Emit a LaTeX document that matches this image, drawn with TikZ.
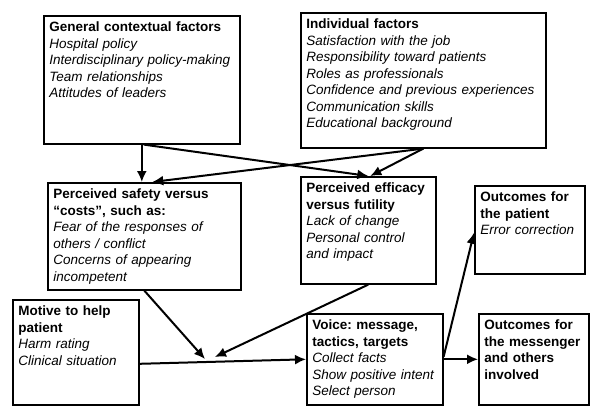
\documentclass[tikz,border=0pt]{standalone}
\usepackage{fontspec}
\setmainfont{Liberation Sans}
\usepgflibrary{arrows.meta}
\frenchspacing

\tikzset{
  factor/.style={draw, line width=1.6pt, anchor=north west, align=left,
    inner xsep=5.5pt, inner ysep=5pt, text height=11pt,
    font=\fontsize{13.5}{16.5}\selectfont},
  link/.style={line width=2pt, -{Latex[length=11pt,width=10pt]}},
}

\begin{document}
\begin{tikzpicture}[x=1pt, y=-1pt]
  \fill[white] (0,0) rectangle (600,416);
  \useasboundingbox (0,0) rectangle (600,416);

  % upper row
  \node[factor, text width=185pt, text depth=107pt] (gen) at (43,15)
  {\textbf{General contextual factors}\\
   \textit{Hospital policy}\\
   \textit{Interdisciplinary policy-making}\\
   \textit{Team relationships}\\
   \textit{Attitudes of leaders}};
  \node[factor, text width=234pt, text depth=114pt] (indiv) at (300,12)
  {\textbf{Individual factors}\\
   \textit{Satisfaction with the job}\\
   \textit{Responsibility toward patients}\\
   \textit{Roles as professionals}\\
   \textit{Confidence and previous experiences}\\
   \textit{Communication skills}\\
   \textit{Educational background}};

  % middle row
  \node[factor, text width=182pt, text depth=86pt] (safe) at (47,182)
  {\textbf{Perceived safety versus}\\
   \textbf{“costs”, such as:}\\
   \textit{Fear of the responses of}\\
   \textit{others / conflict}\\
   \textit{Concerns of appearing}\\
   \textit{incompetent}};
  \node[factor, text width=124pt, text depth=86pt] (eff) at (300,176)
  {\textbf{Perceived efficacy}\\
   \textbf{versus futility}\\
   \textit{Lack of change}\\
   \textit{Personal control}\\
   \textit{and impact}};
  \node[factor, text width=99pt, text depth=67pt] (patient) at (474,185)
  {\textbf{Outcomes for}\\
   \textbf{the patient}\\
   \textit{Error correction}};

  % lower row
  \node[factor, text width=115pt, text depth=84pt] (motive) at (12,299)
  {\textbf{Motive to help}\\
   \textbf{patient}\\
   \textit{Harm rating}\\
   \textit{Clinical situation}};
  \node[factor, text width=125pt, text depth=70pt] (voice) at (306,313)
  {\textbf{Voice: message,}\\
   \textbf{tactics, targets}\\
   \textit{Collect facts}\\
   \textit{Show positive intent}\\
   \textit{Select person}};
  \node[factor, text width=99pt, text depth=70pt] (msg) at (478,313)
  {\textbf{Outcomes for}\\
   \textbf{the messenger}\\
   \textbf{and others}\\
   \textbf{involved}};

  \coordinate (joinL) at (205,359);
  \coordinate (joinR) at (215,357);

  \draw[link] (gen.south) -- (gen.south |- safe.north);
  \draw[link] ([xshift=2pt]gen.south) -- (eff.north);
  \draw[link] (indiv.south) -- ([xshift=2pt]eff.north);
  \draw[link] (indiv.south) -- ([xshift=8pt]safe.north);

  \draw[link] ([yshift=-11.5pt]motive.east) -- (voice.west);
  \draw[link] (safe.south) -- (joinL);
  \draw[link] (eff.south) -- (joinR);

  \draw[link] (voice.east) -- (msg.west);
  \draw[link] ([yshift=2.5pt]voice.east) -- ([yshift=-3pt]patient.west);
\end{tikzpicture}
\end{document}
